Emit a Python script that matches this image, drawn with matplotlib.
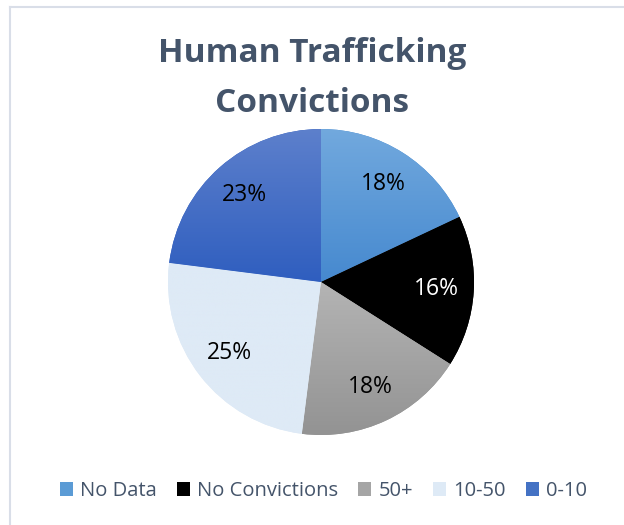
import matplotlib
matplotlib.use("Agg")
import matplotlib.pyplot as plt
import numpy as np
from matplotlib.colors import to_rgb
from matplotlib.lines import Line2D

categories = ["No Data", "No Convictions", "50+", "10-50", "0-10"]
values = [18, 16, 18, 25, 23]
labels = ["18%", "16%", "18%", "25%", "23%"]
top_colors = ["#72A9DE", "#000000", "#B4B4B4", "#DEEAF6", "#5D80CC"]
bottom_colors = ["#4689CF", "#000000", "#939393", "#DEEAF6", "#2F5EBF"]
legend_colors = ["#5B9BD5", "#000000", "#A5A5A5", "#DEEAF6", "#4472C4"]
label_colors = ["#000000", "#FFFFFF", "#000000", "#000000", "#000000"]
title_lines = ["Human Trafficking", "Convictions"]

plt.rcParams['font.family'] = ['Open Sans', 'DejaVu Sans']

W, H = 624, 525
fig = plt.figure(figsize=(W / 100, H / 100), dpi=100)
fig.patch.set_facecolor("white")

# chart border (light)
fig.add_artist(Line2D([10/W, 10/W], [0, 1 - 7/H], transform=fig.transFigure, color="#D9DEE8", lw=1.5))
fig.add_artist(Line2D([10/W, 1], [1 - 7/H, 1 - 7/H], transform=fig.transFigure, color="#D9DEE8", lw=1.5))

cx, cy, r = 321, 282, 153
ax = fig.add_axes([(cx - r) / W, 1 - (cy + r) / H, 2 * r / W, 2 * r / H])
ax.axis('off')

wedges, texts = ax.pie(values, startangle=90, counterclock=False, radius=1,
                       colors=bottom_colors, wedgeprops=dict(linewidth=0))

for i, w in enumerate(wedges):
    t1 = np.array(to_rgb(top_colors[i]))
    t2 = np.array(to_rgb(bottom_colors[i]))
    th = np.linspace(np.radians(w.theta1), np.radians(w.theta2), 200)
    xs = np.concatenate([[0], np.cos(th)])
    ys = np.concatenate([[0], np.sin(th)])
    y0, y1 = ys.min(), ys.max()
    x0, x1 = xs.min(), xs.max()
    frac = np.linspace(0, 1, 256)[:, None]
    img = t1[None, :] * (1 - frac) + t2[None, :] * frac
    img = np.repeat(img[:, None, :], 2, axis=1)
    im = ax.imshow(img, extent=[x0, x1, y0, y1], origin='upper', aspect='auto',
                   interpolation='bilinear', zorder=2)
    im.set_clip_path(w)

ax.set_xlim(-1, 1)
ax.set_ylim(-1, 1)

label_r = 0.755
cum = 0
total = sum(values)
for i, v in enumerate(values):
    mid = 90 - (cum + v / 2) / total * 360
    cum += v
    ax.text(label_r * np.cos(np.radians(mid)), label_r * np.sin(np.radians(mid)),
            labels[i], ha='center', va='center', fontsize=16.5, color=label_colors[i], zorder=5)

fig.text(0.5, 1 - 53/H, title_lines[0], ha='center', va='center', fontsize=24,
         fontweight='bold', color="#44546A")
fig.text(0.5, 1 - 103/H, title_lines[1], ha='center', va='center', fontsize=24,
         fontweight='bold', color="#44546A")

handles = [plt.Rectangle((0, 0), 1, 1, facecolor=legend_colors[i], edgecolor='none')
           for i in range(len(categories))]
fig.legend(handles, categories, loc='center', bbox_to_anchor=(323.5 / W, 1 - 491 / H), ncol=5,
           frameon=False, fontsize=14.5, handlelength=0.65, handleheight=0.65, handletextpad=0.35,
           columnspacing=1.0, labelcolor="#44546A", borderaxespad=0, borderpad=0)

fig.savefig("out.png", dpi=100, facecolor="white")
